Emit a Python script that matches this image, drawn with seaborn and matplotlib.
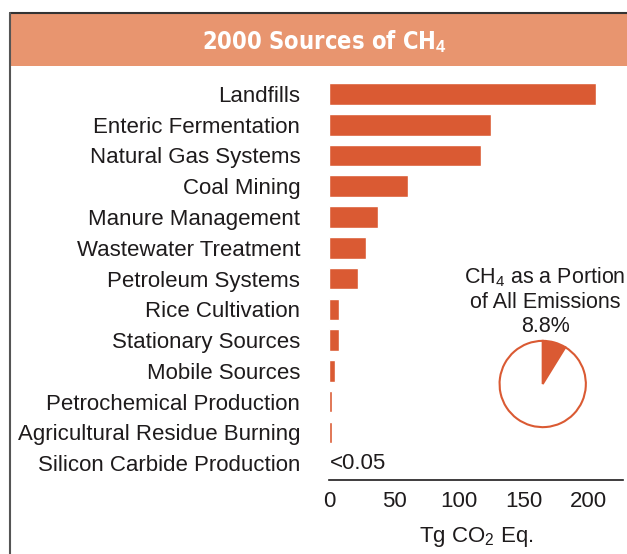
import matplotlib
matplotlib.use("Agg")
import matplotlib.pyplot as plt
import seaborn as sns
from matplotlib.patches import Rectangle
from matplotlib.lines import Line2D

# data (Tg CO2 Eq.)
sources = [
    "Landfills", "Enteric Fermentation", "Natural Gas Systems", "Coal Mining",
    "Manure Management", "Wastewater Treatment", "Petroleum Systems",
    "Rice Cultivation", "Stationary Sources", "Mobile Sources",
    "Petrochemical Production", "Agricultural Residue Burning",
    "Silicon Carbide Production",
]
values = [206, 125, 117, 61, 37.5, 28.3, 22.2, 7.5, 7.5, 4.3, 2.3, 2.1, 0.0]
share_pct = [8.8, 91.2]
xticks = [0, 50, 100, 150, 200]

BAR = "#DA5A33"
BAND = "#E8956F"
INK = "#1E1B1C"
FS = 16

sns.set_style("white")
plt.rcParams["font.family"] = ["Liberation Sans", "DejaVu Sans"]
plt.rcParams["mathtext.fontset"] = "custom"
plt.rcParams["mathtext.rm"] = "Liberation Sans"
plt.rcParams["mathtext.it"] = "Liberation Sans:italic"
plt.rcParams["mathtext.bf"] = "Liberation Sans:bold"

W, H = 627, 554
fig = plt.figure(figsize=(W / 100, H / 100), dpi=100)

def fx(px):
    return px / W

def fy(py):
    return 1 - py / H

# frame and title band
fig.patches.append(Rectangle((fx(9.5), fy(65.5)), fx(W) - fx(9.5), fy(13) - fy(65.5),
                             transform=fig.transFigure, facecolor=BAND, edgecolor="none"))
fig.lines.append(Line2D([fx(9.5), 1], [fy(12.5), fy(12.5)], transform=fig.transFigure,
                        color="#333333", lw=1.5))
fig.lines.append(Line2D([fx(9.5), fx(9.5)], [fy(12.5), 0], transform=fig.transFigure,
                        color="#555555", lw=1.5))
fig.text(fx(325), fy(42), r"2000 Sources of CH$_\mathbf{4}$", color="white",
         fontsize=17, fontweight="bold", fontstretch="condensed", ha="center", va="center",
         family=["DejaVu Sans"])

# bar chart
ax = fig.add_axes([fx(329.5), fy(480), fx(622.7) - fx(329.5), fy(78.6) - fy(480)])
sns.barplot(x=values, y=sources, orient="h", color=BAR, saturation=1, width=0.7, ax=ax)
ax.set_xlim(0, 226.5)
ax.set_ylim(12.55, -0.5)
for s in ["top", "right", "left"]:
    ax.spines[s].set_visible(False)
ax.spines["bottom"].set_color(INK)
ax.spines["bottom"].set_linewidth(1.2)
ax.set_xticks(xticks)
ax.tick_params(axis="x", direction="in", length=3, width=1, color=INK,
               labelsize=FS, labelcolor=INK, pad=8)
ax.tick_params(axis="y", length=0, labelsize=FS, labelcolor=INK, pad=21)
ax.set_ylabel("")
ax.set_xlabel(r"Tg CO$_2$ Eq.", fontsize=FS, color=INK, labelpad=9)
ax.text(0, 12, "<0.05", fontsize=FS, color=INK, va="center", ha="left")

# pie inset
PFS = 15.5
fig.text(fx(545), fy(277), r"CH$_4$ as a Portion", fontsize=PFS, color=INK, ha="center", va="center")
fig.text(fx(545), fy(302), "of All Emissions", fontsize=PFS, color=INK, ha="center", va="center")
fig.text(fx(545), fy(327), "8.8%", fontsize=PFS, color=INK, ha="center", va="center")

pax = fig.add_axes([fx(542.7 - 44), fy(384 + 44), fx(88), 88 / H])
pax.pie(share_pct, colors=[BAR, "white"], startangle=90, counterclock=False,
        wedgeprops=dict(edgecolor=BAR, linewidth=1.5))
pax.set_xlim(-1.02, 1.02)
pax.set_ylim(-1.02, 1.02)
pax.set_aspect("equal")
pax.axis("off")

fig.savefig("out.png", dpi=100)
